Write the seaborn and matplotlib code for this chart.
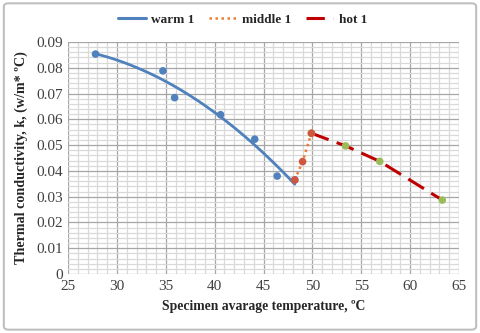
import numpy as np
import pandas as pd
import seaborn as sns
import matplotlib.pyplot as plt
from matplotlib.lines import Line2D
from matplotlib.patches import FancyBboxPatch
from matplotlib.ticker import MultipleLocator

warm_t = [27.8, 34.7, 35.9, 40.6, 44.1, 46.4, 48.2]
warm_k = [0.0853, 0.0788, 0.0684, 0.0618, 0.0523, 0.0380, 0.0365]
middle_t = [48.2, 49.0, 49.9]
middle_k = [0.0365, 0.0436, 0.0546]
hot_t = [49.9, 53.4, 56.9, 63.3]
hot_k = [0.0546, 0.0497, 0.0437, 0.0287]

sns.set_style("white")
plt.rcParams['font.family'] = ['Liberation Serif', 'DejaVu Serif']

fig = plt.figure(figsize=(4.8, 3.33), dpi=100)
ax = fig.add_axes([0.142, 0.177, 0.814, 0.697])

warm = pd.DataFrame({'t': warm_t, 'k': warm_k})
middle = pd.DataFrame({'t': middle_t, 'k': middle_k})
hot = pd.DataFrame({'t': hot_t, 'k': hot_k})

blue = '#4F81BD'
orange = '#ED7D31'
redpt = '#D0573F'
green = '#9BBB59'
darkred = '#C00000'
hot_dash = (0, (6, 2.8))
mid_dot = (0, (1, 1.4))

# warm: points plus 2nd order trendline
sns.regplot(data=warm, x='t', y='k', order=2, ci=None, scatter=False, ax=ax,
            line_kws=dict(color=blue, lw=2.0, zorder=3))
sns.scatterplot(data=warm, x='t', y='k', color=blue, s=30, edgecolor='none', ax=ax, zorder=4)

sns.lineplot(data=middle, x='t', y='k', sort=False, color=orange, lw=1.8,
             linestyle=mid_dot, ax=ax, zorder=3)
sns.scatterplot(data=middle, x='t', y='k', color=redpt, s=30, edgecolor='none', ax=ax, zorder=5)

sns.lineplot(data=hot, x='t', y='k', sort=False, color=darkred, lw=2.2,
             linestyle=hot_dash, ax=ax, zorder=3)
sns.scatterplot(data=hot, x='t', y='k', color=green, s=30, edgecolor='none', ax=ax, zorder=4)

ax.set_xlim(25, 65)
ax.set_ylim(0, 0.09)
ax.xaxis.set_major_locator(MultipleLocator(5))
ax.xaxis.set_minor_locator(MultipleLocator(1))
ax.yaxis.set_minor_locator(MultipleLocator(0.002))
ax.set_yticks(np.arange(0, 0.0901, 0.01))
ax.set_yticklabels(['0'] + ['%.2f' % v for v in np.arange(0.01, 0.0901, 0.01)])
ax.grid(which='major', color='#A6A6A6', lw=0.9)
ax.grid(which='minor', color='#D9D9D9', lw=0.9)
ax.set_axisbelow(True)
for s in ax.spines.values():
    s.set_visible(False)
ax.tick_params(axis='both', which='both', length=0, labelsize=11, colors='#404040', pad=4)

ax.set_xlabel('Specimen avarage temperature, \u00baC', fontsize=9.8, fontweight='bold', labelpad=5)
ax.set_ylabel('Thermal conductivity, k, (w/m* \u00baC)', fontsize=10.2, fontweight='bold', labelpad=6)

handles = [Line2D([], [], color=blue, lw=2.2),
           Line2D([], [], color=orange, lw=1.8, linestyle=mid_dot),
           Line2D([], [], color=darkred, lw=2.2, linestyle=hot_dash)]
fig.legend(handles, ['warm 1', 'middle 1', 'hot 1'], loc='center', bbox_to_anchor=(0.505, 0.94),
           ncol=3, frameon=False, prop=dict(weight='bold', size=9.5), handlelength=2.1,
           columnspacing=1.1, handletextpad=0.4)

fig.patches.append(FancyBboxPatch((0.008, 0.01), 0.984, 0.98, boxstyle='round,pad=0,rounding_size=0.01',
                                  transform=fig.transFigure, fill=False, ec='#BFBFBF', lw=1.5))

fig.savefig('out.png', dpi=100)
